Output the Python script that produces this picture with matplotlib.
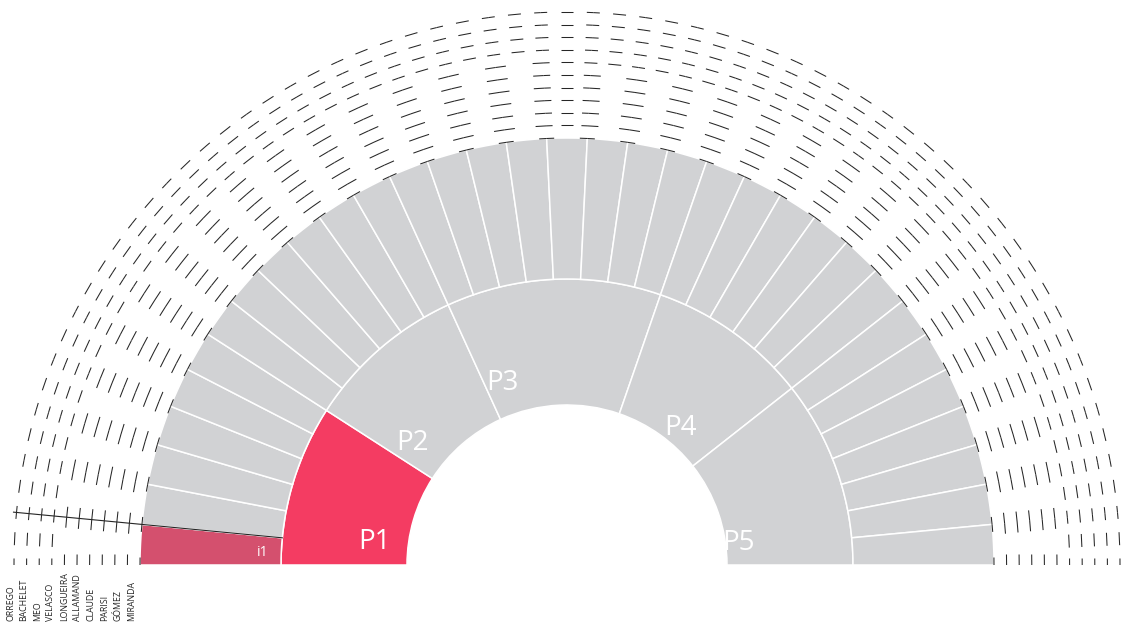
import numpy as np
import matplotlib.pyplot as plt
from matplotlib.patches import Wedge
from matplotlib.collections import LineCollection

# data
parents = ['P1', 'P2', 'P3', 'P4', 'P5']
parent_items = [6, 6, 8, 6, 7]          # number of items under each P
items = ['i' + str(k + 1) for k in range(sum(parent_items))]
item_values = [1] * len(items)
candidates = ['ORREGO', 'BACHELET', 'MEO', 'VELASCO', 'LONGUEIRA',
              'ALLAMAND', 'CLAUDE', 'PARISI', 'GÓMEZ', 'MIRANDA']
# mark type per candidate and item: A = full dashes, B = only at the borders
marks = [
    'A' * 33,
    'A' * 33,
    'A' * 33,
    'A' * 33,
    'B' * 16 + 'A' * 17,
    'B' * 16 + 'A' + 'B' * 16,
    'B' * 16 + 'A' + 'B' * 16,
    'B' * 16 + 'A' + 'B' * 16,
    'B' * 16 + 'A' + 'B' * 16,
    'B' * 16 + 'A' + 'B' * 16,
]
selected_parent = 'P1'
selected_item = 'i1'

# layout (pixels)
W, H = 1130, 625
cx, cy = 567, 60
r_hole, r_mid, r_out = 160, 286, 427
ring_step = 12.6
gray = '#d1d2d4'
red = '#f43c62'
red_dark = '#d4506e'
ink = '#262626'
p_label_pos = [(194, 173.2), (197, 141.8), (193, 109.6), (178, 50.5), (173, 7.3)]

fig = plt.figure(figsize=(W / 100, H / 100), dpi=100)
ax = fig.add_axes([0, 0, 1, 1])
ax.set_xlim(0, W)
ax.set_ylim(0, H)
ax.axis('off')

total = sum(item_values)
step = 180.0 / total

# inner ring: P1..P5
start = 180.0
for name, n in zip(parents, parent_items):
    end = start - n * step
    col = red if name == selected_parent else gray
    ax.add_patch(Wedge((cx, cy), r_mid, end, start, width=r_mid - r_hole,
                       facecolor=col, edgecolor='white', lw=1.1))
    start = end

# outer ring: items
item_angles = []
start = 180.0
for name, v in zip(items, item_values):
    end = start - v * step
    col = red_dark if name == selected_item else gray
    ax.add_patch(Wedge((cx, cy), r_out, end, start, width=r_out - r_mid,
                       facecolor=col, edgecolor='white', lw=1.1))
    item_angles.append((start, end))
    start = end


def dash(r, a, length, direction):
    # short straight dash on the circle of radius r, from angle a
    da = np.degrees(length / r) * direction
    t = np.radians([a, a + da])
    return [(cx + r * np.cos(t[0]), cy + r * np.sin(t[0])),
            (cx + r * np.cos(t[1]), cy + r * np.sin(t[1]))]


segs = []
# border ring on the edge of the items
for a0, a1 in item_angles:
    segs.append(dash(r_out, a0, 7.5, -1))
    segs.append(dash(r_out, a1, 7.5, 1))

# candidate rings, innermost = last candidate
for ci, cand in enumerate(candidates):
    r = r_out + ring_step * (len(candidates) - ci)
    for (a0, a1), m in zip(item_angles, marks[ci]):
        if m == 'A':
            h = 6.5
            mid = (a0 + a1) / 2
            segs.append(dash(r, mid - np.degrees(h / r), 2 * h, 1))
        else:
            h = 10.5
        segs.append(dash(r, a0, h, -1))
        segs.append(dash(r, a1, h, 1))

ax.add_collection(LineCollection(segs, colors=ink, linewidths=0.75))

# black radial line on the end of the selected item
sel = items.index(selected_item)
a = np.radians(item_angles[sel][1])
r_end = r_out + ring_step * len(candidates) + 3
ax.plot([cx + r_mid * np.cos(a), cx + r_end * np.cos(a)],
        [cy + r_mid * np.sin(a), cy + r_end * np.sin(a)], color=ink, lw=0.8)

# labels
for name, (r, ang) in zip(parents, p_label_pos):
    t = np.radians(ang)
    ax.text(cx + r * np.cos(t), cy + r * np.sin(t), name, color='white',
            fontsize=20, family='Open Sans', ha='center', va='center')

ax.text(263, 72, selected_item, color='white', fontsize=10,
        family='Open Sans', ha='center', va='center')

for ci, cand in enumerate(candidates):
    ax.text(10.5 + 13.46 * ci, 4, cand, rotation=90, color=ink,
            fontsize=6.3, family='Open Sans', ha='center', va='bottom')

fig.savefig('out.png', dpi=100)
